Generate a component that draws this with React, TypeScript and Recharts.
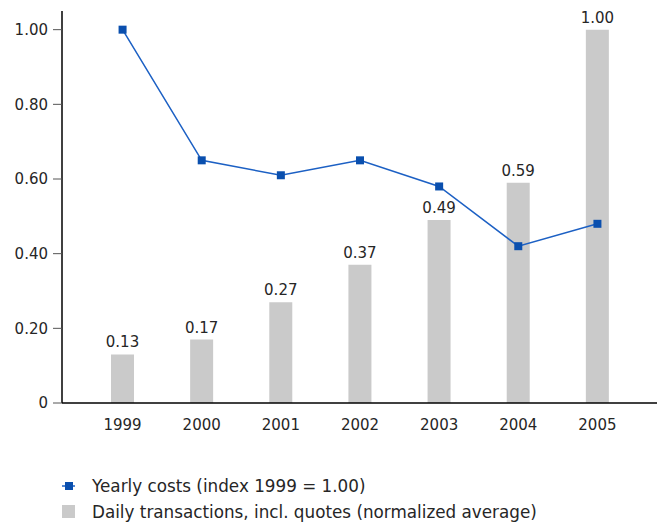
import React from "react";
import { ComposedChart, Bar, Line, XAxis, YAxis, LabelList } from "recharts";

const years = ["1999", "2000", "2001", "2002", "2003", "2004", "2005"];
const yearlyCosts = [1.0, 0.65, 0.61, 0.65, 0.58, 0.42, 0.48];
const dailyTransactions = [0.13, 0.17, 0.27, 0.37, 0.49, 0.59, 1.0];
const yTicks = [0, 0.2, 0.4, 0.6, 0.8, 1.0];

const data = years.map((year, i) => ({
  year,
  costs: yearlyCosts[i],
  transactions: dailyTransactions[i],
}));

const font = "'DejaVu Sans', Verdana, sans-serif";
const lineColor = "#1c60c4";
const dotColor = "#0a4fae";
const barColor = "#cacaca";
const textColor = "#262626";

const SquareDot = (props: any) => {
  const { cx, cy } = props;
  if (cx == null || cy == null) return null;
  return <rect x={cx - 4} y={cy - 4} width={8} height={8} fill={dotColor} />;
};

// legend drawn below the plot, outside the svg
function ChartLegend() {
  return (
    <div
      style={{
        position: "absolute",
        left: 61,
        top: 473,
        fontFamily: font,
        fontSize: 16.8,
        color: textColor,
        lineHeight: "26px",
      }}
    >
      <div style={{ display: "flex", alignItems: "center", height: 26 }}>
        <svg width={31} height={26}>
          <line x1={1} y1={13} x2={14} y2={13} stroke={lineColor} strokeWidth={1.5} />
          <rect x={4} y={9} width={8} height={8} fill={dotColor} />
        </svg>
        <span>Yearly costs (index 1999 = 1.00)</span>
      </div>
      <div style={{ display: "flex", alignItems: "center", height: 26 }}>
        <svg width={31} height={26}>
          <rect x={1} y={6} width={13} height={13} fill={barColor} />
        </svg>
        <span>Daily transactions, incl. quotes (normalized average)</span>
      </div>
    </div>
  );
}

export default function App() {
  return (
    <div
      style={{
        position: "fixed",
        left: 0,
        top: 0,
        width: 663,
        height: 522,
        background: "#fff",
        overflow: "hidden",
      }}
    >
      <ComposedChart
        width={663}
        height={522}
        data={data}
        margin={{ top: 11, right: 6, left: 0, bottom: 89 }}
      >
        <XAxis
          dataKey="year"
          padding={{ left: 21, right: 20 }}
          tickLine={false}
          axisLine={{ stroke: "#000", strokeWidth: 1.5 }}
          tick={{ fill: textColor, fontSize: 15, fontFamily: font }}
          tickMargin={10}
          height={30}
        />
        <YAxis
          domain={[0, 1.05]}
          ticks={yTicks}
          width={62}
          tickSize={9}
          tickMargin={5}
          tickLine={{ stroke: "#555" }}
          axisLine={{ stroke: "#000", strokeWidth: 1.5 }}
          tick={{ fill: textColor, fontSize: 15, fontFamily: font }}
          tickFormatter={(v: number) => (v === 0 ? "0" : v.toFixed(2))}
        />
        <Bar dataKey="transactions" fill={barColor} barSize={23} isAnimationActive={false}>
          <LabelList
            dataKey="transactions"
            position="top"
            offset={7}
            formatter={(v: any) => Number(v).toFixed(2)}
            style={{ fill: textColor, fontSize: 15, fontFamily: font }}
          />
        </Bar>
        <Line
          dataKey="costs"
          stroke={lineColor}
          strokeWidth={1.5}
          dot={<SquareDot />}
          activeDot={false}
          isAnimationActive={false}
        />
      </ComposedChart>
      <ChartLegend />
    </div>
  );
}
